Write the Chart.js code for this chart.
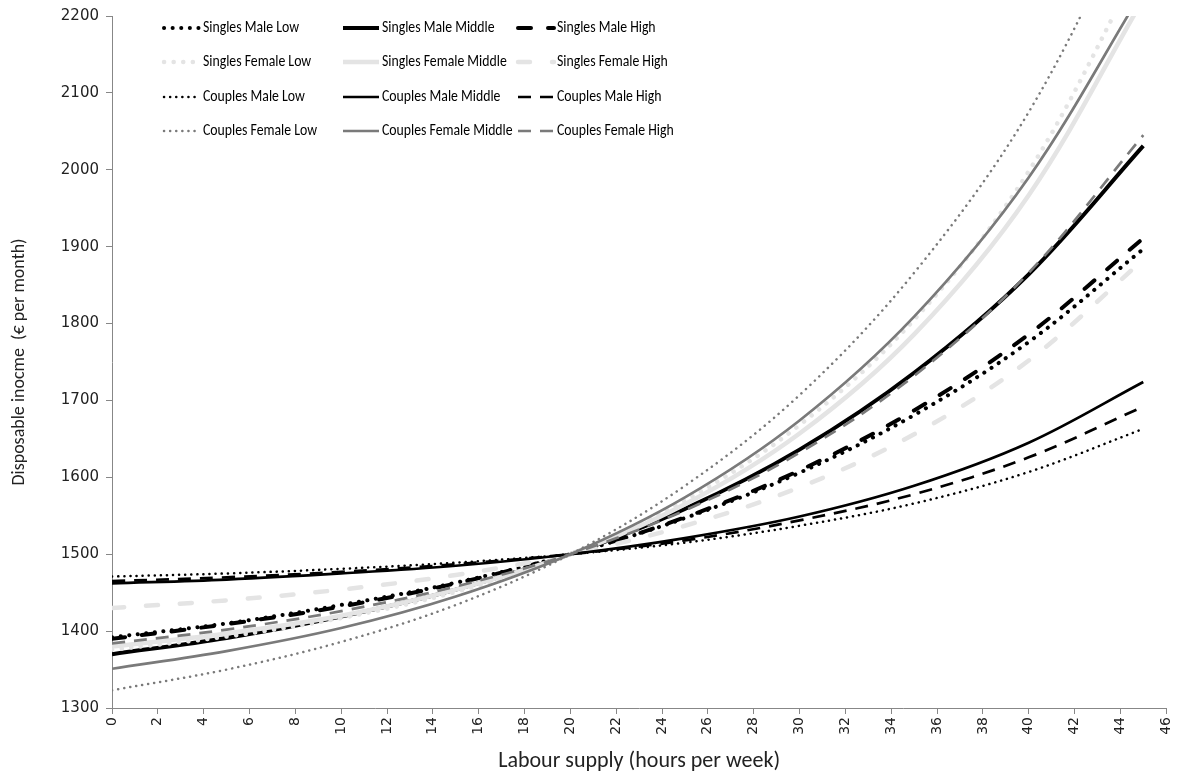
<!DOCTYPE html>
<html>
<head>
<meta charset="utf-8">
<script src="https://cdn.jsdelivr.net/npm/chart.js@4.4.0/dist/chart.umd.min.js"></script>
<style>
html, body { margin: 0; padding: 0; background: #fff; }
#wrap { width: 1186px; height: 775px; position: relative; }
</style>
</head>
<body>
<div id="wrap"><canvas id="mainChart"></canvas></div>
<script>
// Labour supply (hours per week) and disposable income (euro per month)
const hours = [0, 5, 10, 15, 20, 25, 30, 35, 40, 45];

const singlesMaleLow      = [1392, 1410, 1434, 1463, 1500, 1547, 1606, 1681, 1776, 1897];
const singlesMaleMiddle   = [1370, 1391, 1419, 1454, 1500, 1559, 1636, 1736, 1864, 2031];
const singlesMaleHigh     = [1390, 1409, 1432, 1462, 1500, 1548, 1609, 1687, 1786, 1911];
const singlesFemaleLow    = [1376, 1393, 1417, 1451, 1500, 1570, 1668, 1805, 1998, 2275];
const singlesFemaleMiddle = [1380, 1397, 1420, 1454, 1500, 1565, 1657, 1786, 1967, 2222];
const singlesFemaleHigh   = [1430, 1440, 1454, 1473, 1500, 1537, 1587, 1656, 1752, 1883];
const couplesMaleLow      = [1471, 1475, 1481, 1489, 1500, 1515, 1537, 1566, 1607, 1663];
const couplesMaleMiddle   = [1462, 1467, 1475, 1485, 1500, 1521, 1549, 1589, 1645, 1724];
const couplesMaleHigh     = [1465, 1470, 1477, 1487, 1500, 1518, 1544, 1578, 1626, 1692];
const couplesFemaleLow    = [1323, 1350, 1386, 1434, 1500, 1589, 1707, 1866, 2075, 2365];
const couplesFemaleMiddle = [1351, 1374, 1404, 1445, 1500, 1574, 1674, 1809, 1990, 2234];
const couplesFemaleHigh   = [1384, 1402, 1426, 1458, 1500, 1557, 1632, 1732, 1866, 2045];

const seriesLabels = [
    'Singles Male Low', 'Singles Male Middle', 'Singles Male High',
    'Singles Female Low', 'Singles Female Middle', 'Singles Female High',
    'Couples Male Low', 'Couples Male Middle', 'Couples Male High',
    'Couples Female Low', 'Couples Female Middle', 'Couples Female High'
];
const seriesValues = [
    singlesMaleLow, singlesMaleMiddle, singlesMaleHigh,
    singlesFemaleLow, singlesFemaleMiddle, singlesFemaleHigh,
    couplesMaleLow, couplesMaleMiddle, couplesMaleHigh,
    couplesFemaleLow, couplesFemaleMiddle, couplesFemaleHigh
];

const BLACK = '#000000';
const LIGHT = '#e4e4e4';
const GRAY = '#7a7a7a';
const TEXT_FONT = 'Carlito, Lato, "Open Sans", sans-serif';

// colour, width, dash, cap for each series (same order as the labels)
const styles = [
    { color: BLACK, width: 4,   dash: [0.1, 8.5], cap: 'round' },
    { color: BLACK, width: 4,   dash: [],         cap: 'butt' },
    { color: BLACK, width: 4,   dash: [13, 17],   cap: 'round' },
    { color: LIGHT, width: 4.5, dash: [0.1, 9.5], cap: 'round' },
    { color: LIGHT, width: 4.5, dash: [],         cap: 'butt' },
    { color: LIGHT, width: 4.5, dash: [12, 22],   cap: 'round' },
    { color: BLACK, width: 2.5, dash: [0.1, 6],   cap: 'round' },
    { color: BLACK, width: 2.7, dash: [],         cap: 'butt' },
    { color: BLACK, width: 2.7, dash: [13, 9],    cap: 'butt' },
    { color: GRAY,  width: 2.5, dash: [0.1, 6],   cap: 'round' },
    { color: GRAY,  width: 2.7, dash: [],         cap: 'butt' },
    { color: GRAY,  width: 2.7, dash: [13, 9],    cap: 'butt' }
];

const datasets = seriesLabels.map((label, i) => ({
    label: label,
    data: hours.map((h, j) => ({ x: h, y: seriesValues[i][j] })),
    borderColor: styles[i].color,
    borderWidth: styles[i].width,
    borderDash: styles[i].dash,
    borderCapStyle: styles[i].cap,
    tension: 0.35,
    pointRadius: 0,
    fill: false,
    clip: 0,
    order: seriesLabels.length - i
}));

// legend drawn as a 3 x 4 grid inside the plot area
const gridLegend = {
    id: 'gridLegend',
    afterDraw(chart) {
        const ctx = chart.ctx;
        const colX = [164, 343, 518];
        const sampleW = 36;
        const rowY = [28, 62, 97, 131];
        ctx.save();
        ctx.font = '16px ' + TEXT_FONT;
        ctx.textBaseline = 'middle';
        ctx.fillStyle = '#000';
        chart.data.datasets.forEach((d, i) => {
            const x = colX[i % 3];
            const y = rowY[Math.floor(i / 3)];
            ctx.beginPath();
            ctx.strokeStyle = d.borderColor;
            ctx.lineWidth = d.borderWidth;
            ctx.lineCap = d.borderCapStyle;
            ctx.setLineDash(d.borderDash);
            ctx.moveTo(x, y);
            ctx.lineTo(x + sampleW, y);
            ctx.stroke();
            ctx.setLineDash([]);
            // narrow the text a little, the original uses a condensed face
            ctx.save();
            ctx.translate(x + sampleW + 3, y);
            ctx.scale(0.86, 1);
            ctx.fillText(d.label, 0, 0);
            ctx.restore();
        });
        ctx.restore();
    }
};

Chart.defaults.font.family = '"DejaVu Sans", Verdana, sans-serif';
Chart.defaults.color = '#222';

const ctx = document.getElementById('mainChart').getContext('2d');
new Chart(ctx, {
    type: 'line',
    data: { datasets: datasets },
    options: {
        responsive: true,
        maintainAspectRatio: false,
        animation: false,
        events: [],
        layout: { padding: { top: 14, right: 13, left: 0, bottom: 0 } },
        plugins: {
            legend: { display: false },
            tooltip: { enabled: false }
        },
        scales: {
            x: {
                type: 'linear',
                min: 0,
                max: 46,
                afterFit: scale => { scale.height = 67; },
                ticks: { stepSize: 2, minRotation: 90, maxRotation: 90, padding: 3, font: { size: 14 }, callback: v => String(v) },
                grid: { drawOnChartArea: false, tickLength: 6, color: '#878787' },
                border: { color: '#878787' },
                title: {
                    display: true,
                    text: 'Labour supply (hours per week)',
                    font: { family: TEXT_FONT, size: 22 },
                    padding: { top: 0, bottom: 0 }
                }
            },
            y: {
                min: 1300,
                max: 2200,
                afterFit: scale => { scale.width = 112; },
                ticks: { stepSize: 100, padding: 7, font: { size: 15 }, callback: v => String(v) },
                grid: { drawOnChartArea: false, tickLength: 6, color: '#878787' },
                border: { color: '#878787' },
                title: {
                    display: true,
                    text: 'Disposable inocme  (€ per month)',
                    font: { family: TEXT_FONT, size: 18 },
                    padding: { top: 9, bottom: 0 }
                }
            }
        }
    },
    plugins: [gridLegend]
});
</script>
</body>
</html>
